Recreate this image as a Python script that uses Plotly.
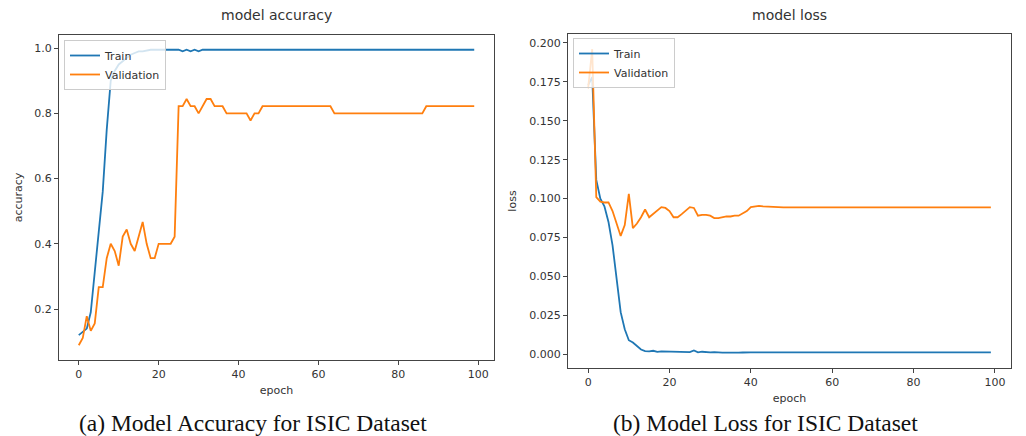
import plotly.graph_objects as go

W, H = 1026, 436

epochs = list(range(100))

acc_train = [
    0.12, 0.13, 0.14, 0.19, 0.31, 0.43, 0.56, 0.75, 0.90, 0.93,
    0.95, 0.96, 0.97, 0.98, 0.985, 0.99, 0.99, 0.993, 0.995, 0.995,
    0.995, 0.995, 0.995, 0.995, 0.995, 0.995, 0.99, 0.995, 0.99, 0.995,
    0.99, 0.995, 0.995, 0.995, 0.995, 0.995, 0.995, 0.995, 0.995, 0.995,
    0.995, 0.995, 0.995, 0.995, 0.995, 0.995, 0.995, 0.995, 0.995, 0.995,
    0.995, 0.995, 0.995, 0.995, 0.995, 0.995, 0.995, 0.995, 0.995, 0.995,
    0.995, 0.995, 0.995, 0.995, 0.995, 0.995, 0.995, 0.995, 0.995, 0.995,
    0.995, 0.995, 0.995, 0.995, 0.995, 0.995, 0.995, 0.995, 0.995, 0.995,
    0.995, 0.995, 0.995, 0.995, 0.995, 0.995, 0.995, 0.995, 0.995, 0.995,
    0.995, 0.995, 0.995, 0.995, 0.995, 0.995, 0.995, 0.995, 0.995, 0.995,
]

acc_val = [
    0.089, 0.111, 0.178, 0.133, 0.156, 0.267, 0.267, 0.356, 0.400, 0.378,
    0.333, 0.422, 0.444, 0.400, 0.378, 0.422, 0.467, 0.400, 0.356, 0.356,
    0.400, 0.400, 0.400, 0.400, 0.422, 0.822, 0.822, 0.844, 0.822, 0.822,
    0.800, 0.822, 0.844, 0.844, 0.822, 0.822, 0.822, 0.800, 0.800, 0.800,
    0.800, 0.800, 0.800, 0.778, 0.800, 0.800, 0.822, 0.822, 0.822, 0.822,
    0.822, 0.822, 0.822, 0.822, 0.822, 0.822, 0.822, 0.822, 0.822, 0.822,
    0.822, 0.822, 0.822, 0.822, 0.800, 0.800, 0.800, 0.800, 0.800, 0.800,
    0.800, 0.800, 0.800, 0.800, 0.800, 0.800, 0.800, 0.800, 0.800, 0.800,
    0.800, 0.800, 0.800, 0.800, 0.800, 0.800, 0.800, 0.822, 0.822, 0.822,
    0.822, 0.822, 0.822, 0.822, 0.822, 0.822, 0.822, 0.822, 0.822, 0.822,
]

loss_train = [
    0.173, 0.178, 0.112, 0.100, 0.095, 0.085, 0.070, 0.050, 0.027, 0.016,
    0.009, 0.0075, 0.005, 0.003, 0.002, 0.0018, 0.0022, 0.0015, 0.0018, 0.0017,
    0.0019, 0.0016, 0.0014, 0.0015, 0.0013, 0.0014, 0.0024, 0.0012, 0.0016, 0.0013,
    0.0012, 0.0014, 0.0011, 0.0010, 0.0010, 0.0009, 0.0010, 0.0010, 0.0011, 0.0013,
    0.0012, 0.0012, 0.0012, 0.0012, 0.0012, 0.0012, 0.0012, 0.0012, 0.0012, 0.0012,
    0.0012, 0.0012, 0.0012, 0.0012, 0.0012, 0.0012, 0.0012, 0.0012, 0.0012, 0.0012,
    0.0012, 0.0012, 0.0012, 0.0012, 0.0012, 0.0012, 0.0012, 0.0012, 0.0012, 0.0012,
    0.0012, 0.0012, 0.0012, 0.0012, 0.0012, 0.0012, 0.0012, 0.0012, 0.0012, 0.0012,
    0.0012, 0.0012, 0.0012, 0.0012, 0.0012, 0.0012, 0.0012, 0.0012, 0.0012, 0.0012,
    0.0012, 0.0012, 0.0012, 0.0012, 0.0012, 0.0012, 0.0012, 0.0012, 0.0012, 0.0012,
]

loss_val = [
    0.171, 0.196, 0.101, 0.098, 0.0975, 0.0975, 0.092, 0.084, 0.076, 0.083,
    0.103, 0.081, 0.084, 0.088, 0.093, 0.088, 0.090, 0.092, 0.0945, 0.094,
    0.092, 0.088, 0.088, 0.090, 0.092, 0.0945, 0.094, 0.089, 0.0895, 0.0895,
    0.089, 0.0875, 0.0875, 0.088, 0.0885, 0.0885, 0.089, 0.089, 0.0905, 0.092,
    0.0945, 0.095, 0.0953, 0.095, 0.0948, 0.0946, 0.0945, 0.0944, 0.0944, 0.0944,
    0.0944, 0.0944, 0.0944, 0.0944, 0.0944, 0.0944, 0.0944, 0.0944, 0.0944, 0.0944,
    0.0944, 0.0944, 0.0944, 0.0944, 0.0944, 0.0944, 0.0944, 0.0944, 0.0944, 0.0944,
    0.0944, 0.0944, 0.0944, 0.0944, 0.0944, 0.0944, 0.0944, 0.0944, 0.0944, 0.0944,
    0.0944, 0.0944, 0.0944, 0.0944, 0.0944, 0.0944, 0.0944, 0.0944, 0.0944, 0.0944,
    0.0944, 0.0944, 0.0944, 0.0944, 0.0944, 0.0944, 0.0944, 0.0944, 0.0944, 0.0944,
]

x_ticks = [0, 20, 40, 60, 80, 100]
acc_ticks = [0.2, 0.4, 0.6, 0.8, 1.0]
loss_ticks = [0.0, 0.025, 0.05, 0.075, 0.1, 0.125, 0.15, 0.175, 0.2]

BLUE = "#1f77b4"
ORANGE = "#ff7f0e"
TXT = "#333333"
FONT = "DejaVu Sans"


def px_x(a, b):
    return [a / W, b / W]


def px_y(top, bottom):
    return [1 - bottom / H, 1 - top / H]


fig = go.Figure()

line_w = 1.8
fig.add_trace(go.Scatter(x=epochs, y=acc_train, name="Train", mode="lines",
                         line=dict(color=BLUE, width=line_w),
                         xaxis="x", yaxis="y", legend="legend"))
fig.add_trace(go.Scatter(x=epochs, y=acc_val, name="Validation", mode="lines",
                         line=dict(color=ORANGE, width=line_w),
                         xaxis="x", yaxis="y", legend="legend"))
fig.add_trace(go.Scatter(x=epochs, y=loss_train, name="Train", mode="lines",
                         line=dict(color=BLUE, width=line_w),
                         xaxis="x2", yaxis="y2", legend="legend2"))
fig.add_trace(go.Scatter(x=epochs, y=loss_val, name="Validation", mode="lines",
                         line=dict(color=ORANGE, width=line_w),
                         xaxis="x2", yaxis="y2", legend="legend2"))

axis_common = dict(
    showline=True, linecolor="#444444", linewidth=1, mirror=True,
    ticks="outside", ticklen=4, tickcolor="#444444",
    showgrid=False, zeroline=False,
    tickfont=dict(family=FONT, size=11, color=TXT),
)


def xlims(vals):
    lo, hi = min(vals), max(vals)
    pad = (hi - lo) * 0.05
    return [lo - pad, hi + pad]


def ylims(*series):
    lo = min(min(s) for s in series)
    hi = max(max(s) for s in series)
    pad = (hi - lo) * 0.05
    return [lo - pad, hi + pad]


label_font = dict(family=FONT, size=11, color=TXT)

fig.update_layout(
    width=W, height=H,
    margin=dict(l=0, r=0, t=0, b=0),
    paper_bgcolor="white", plot_bgcolor="white",
    xaxis=dict(axis_common, domain=px_x(59, 494), range=xlims(epochs),
               tickvals=x_ticks, anchor="y",
               title=dict(text="epoch", font=label_font, standoff=6)),
    yaxis=dict(axis_common, domain=px_y(35, 360), range=ylims(acc_train, acc_val),
               tickvals=acc_ticks, tickformat=".1f", anchor="x",
               title=dict(text="accuracy", font=label_font, standoff=9)),
    xaxis2=dict(axis_common, domain=px_x(568, 1011), range=xlims(epochs),
                tickvals=x_ticks, anchor="y2",
                title=dict(text="epoch", font=label_font, standoff=6)),
    yaxis2=dict(axis_common, domain=px_y(34, 368), range=ylims(loss_train, loss_val),
                tickvals=loss_ticks, tickformat=".3f", anchor="x2",
                title=dict(text="loss", font=label_font, standoff=10)),
    legend=dict(x=64 / W, y=1 - 40 / H, xanchor="left", yanchor="top",
                bgcolor="rgba(255,255,255,0.8)", bordercolor="#cccccc", borderwidth=1,
                font=dict(family=FONT, size=11, color=TXT),
                itemwidth=30, tracegroupgap=0),
    legend2=dict(x=573 / W, y=1 - 38 / H, xanchor="left", yanchor="top",
                 bgcolor="rgba(255,255,255,0.8)", bordercolor="#cccccc", borderwidth=1,
                 font=dict(family=FONT, size=11, color=TXT),
                 itemwidth=30, tracegroupgap=0),
    showlegend=True,
)

annotations = [
    dict(text="model accuracy", x=(59 + 494) / 2 / W, y=1 - 15 / H,
         font=dict(family=FONT, size=14, color=TXT)),
    dict(text="model loss", x=(568 + 1011) / 2 / W, y=1 - 15 / H,
         font=dict(family=FONT, size=14, color=TXT)),
    dict(text="(a) Model Accuracy for ISIC Dataset", x=253 / W, y=1 - 423 / H,
         font=dict(family="Liberation Serif", size=23.5, color="#111111")),
    dict(text="(b) Model Loss for ISIC Dataset", x=765 / W, y=1 - 423 / H,
         font=dict(family="Liberation Serif", size=23.5, color="#111111")),
]
for a in annotations:
    fig.add_annotation(xref="paper", yref="paper", showarrow=False,
                       xanchor="center", yanchor="middle", **a)

fig.write_html("out.html")
